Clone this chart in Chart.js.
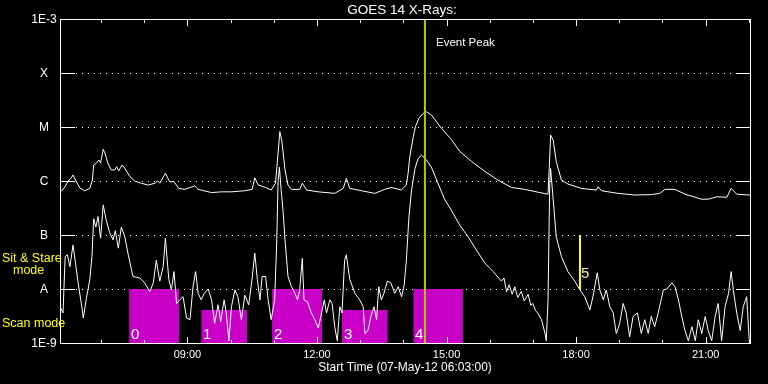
<!DOCTYPE html>
<html>
<head>
<meta charset="utf-8">
<title>GOES 14 X-Rays</title>
<script src="https://cdn.jsdelivr.net/npm/chart.js@4.4.1/dist/chart.umd.min.js"></script>
<style>
  html, body { margin: 0; padding: 0; background: #000; }
  canvas { display: block; }
</style>
</head>
<body>
<canvas id="goesChart" width="768" height="384"></canvas>
<script>
// GOES 14 X-ray flux, 07-May-12, hours UT

// long channel (1-8 A)
const longTimes = [
  6.07, 6.16, 6.24, 6.31, 6.35, 6.43, 6.51, 6.62, 6.74, 6.80,
  6.83, 6.89, 6.95, 6.99, 7.05, 7.09, 7.16, 7.24, 7.32, 7.36,
  7.41, 7.49, 7.55, 7.67, 7.78, 7.93, 8.09, 8.25, 8.31, 8.36,
  8.49, 8.59, 8.69, 8.80,
  8.94, 9.17, 9.25, 9.56, 9.79, 10.02, 10.33, 10.50, 10.56, 10.64,
  10.81, 10.94, 11.04, 11.10, 11.14, 11.19, 11.26, 11.33, 11.41, 11.60,
  11.66, 11.76, 12.03, 12.41, 12.61, 12.68, 12.76, 13.03, 13.34, 13.57,
  13.72, 13.95, 14.07, 14.11, 14.15, 14.23, 14.28, 14.36,
  14.46, 14.53, 14.65, 14.88, 15.11, 15.31, 15.58, 15.89, 16.19, 16.50,
  16.81, 17.16,
  17.35, 17.38, 17.41, 17.47, 17.54, 17.66, 17.81, 18.12, 18.47, 18.51,
  18.59, 18.97, 19.36, 19.74, 19.94,
  20.06, 20.29, 20.52, 20.91, 21.06, 21.26, 21.49, 21.59, 21.72, 21.99,
  22.05
];
const longFlux = [
  6.3e-7, 7.7e-7, 1.0e-6, 1.14e-6, 1.29e-6, 9.7e-7, 7.4e-7, 6.6e-7, 7.3e-7, 1.04e-6,
  1.98e-6, 2.13e-6, 2.45e-6, 2.15e-6, 3.86e-6, 3.3e-6, 2.13e-6, 1.6e-6, 1.6e-6, 1.84e-6,
  1.55e-6, 1.98e-6, 1.72e-6, 1.2e-6, 1.0e-6, 9.1e-7, 8.4e-7, 9.1e-7, 1.01e-6, 9.1e-7,
  1.39e-6, 9.7e-7, 9.7e-7, 7.3e-7,
  7.0e-7, 8.1e-7, 7.0e-7, 6.1e-7, 6.3e-7, 6.3e-7, 6.6e-7, 7.0e-7, 1.15e-6, 8.4e-7,
  7.6e-7, 6.8e-7, 9.1e-7, 3.3e-6, 8.2e-6, 5.3e-6, 1.6e-6, 8.4e-7, 7.0e-7, 7.0e-7,
  9.1e-7, 6.8e-7, 6.3e-7, 5.9e-7, 7.3e-7, 1.12e-6, 7.3e-7, 6.6e-7, 5.9e-7, 7.0e-7,
  7.6e-7, 6.8e-7, 8.4e-7, 1.39e-6, 2.82e-6, 6.6e-6, 1.01e-5, 1.45e-5,
  1.79e-5, 1.92e-5, 1.67e-5, 9.5e-6, 5.9e-6, 3.5e-6, 2.3e-6, 1.5e-6, 1.04e-6, 7.6e-7,
  7.0e-7, 6.1e-7,
  5.7e-7, 1.84e-6, 7.1e-6, 5.7e-6, 2.3e-6, 1.04e-6, 8.8e-7, 7.3e-7, 6.8e-7, 7.8e-7,
  6.6e-7, 5.9e-7, 5.5e-7, 5.6e-7, 5.9e-7,
  7.0e-7, 7.0e-7, 5.7e-7, 4.6e-7, 4.6e-7, 5.1e-7, 5.0e-7, 7.3e-7, 5.7e-7, 5.5e-7,
  5.6e-7
];

// short channel (0.5-4 A)
const shortTimes = [
  6.07, 6.12, 6.17, 6.22, 6.28, 6.35, 6.41, 6.47, 6.56, 6.59,
  6.66, 6.74, 6.79, 6.83, 6.88, 6.93, 6.99, 7.05, 7.12, 7.20,
  7.28, 7.33, 7.40, 7.47, 7.55, 7.63, 7.74, 7.90, 8.01, 8.13,
  8.21, 8.28, 8.36, 8.44, 8.49, 8.57, 8.63, 8.69, 8.75, 8.82,
  8.90, 8.98, 9.06, 9.13, 9.19, 9.25, 9.32, 9.39, 9.48, 9.56,
  9.63, 9.71, 9.77, 9.85, 9.90, 9.96, 10.02, 10.10, 10.17, 10.25,
  10.33, 10.42, 10.50, 10.56, 10.62, 10.68, 10.73, 10.81, 10.87, 10.94,
  11.02, 11.07, 11.10, 11.13, 11.17, 11.22, 11.26, 11.33, 11.41, 11.49,
  11.55, 11.60, 11.66, 11.70, 11.78, 11.87, 11.95, 12.03, 12.09, 12.17,
  12.22, 12.30, 12.35, 12.41, 12.47, 12.53, 12.58, 12.64, 12.68, 12.76,
  12.88, 12.99, 13.07, 13.11, 13.18, 13.25, 13.32, 13.38, 13.43, 13.49,
  13.55, 13.63, 13.71, 13.80, 13.88, 13.96, 14.02, 14.07, 14.13, 14.19,
  14.27, 14.34, 14.42, 14.51, 14.65, 14.80, 14.96, 15.11, 15.31, 15.50,
  15.69, 15.89, 16.08, 16.27, 16.33, 16.39, 16.45, 16.52, 16.58, 16.65,
  16.73, 16.80, 16.89, 16.95, 17.00, 17.06, 17.12, 17.20, 17.28, 17.31,
  17.35, 17.39, 17.41, 17.47, 17.54, 17.66, 17.81, 17.97, 18.09, 18.20,
  18.32, 18.39, 18.49, 18.55, 18.63, 18.70, 18.78, 18.86, 18.93, 19.01,
  19.09, 19.16, 19.24, 19.32, 19.42, 19.51, 19.59, 19.67, 19.74, 19.82,
  19.90, 19.97, 20.02, 20.10, 20.22, 20.29, 20.37, 20.43, 20.52, 20.60,
  20.68, 20.76, 20.83, 20.91, 20.99, 21.06, 21.14, 21.22, 21.29, 21.37,
  21.45, 21.53, 21.59, 21.64, 21.72, 21.80, 21.87, 21.95, 22.01
];
const shortFlux = [
  4.4e-9, 3.6e-9, 4.0e-8, 4.3e-8, 2.6e-8, 6.5e-8, 3.0e-8, 1.3e-8, 4.4e-9, 2.9e-9,
  6.7e-9, 1.5e-8, 4.0e-8, 2.0e-7, 1.4e-7, 2.2e-7, 8.7e-8, 3.6e-7, 1.9e-7, 1.1e-7,
  8.1e-8, 1.2e-7, 5.7e-8, 1.4e-7, 9.3e-8, 4.3e-8, 1.7e-8, 1.6e-8, 1.3e-8, 8.9e-9,
  1.3e-8, 3.4e-8, 1.4e-8, 2.6e-8, 8.7e-8, 1.5e-8, 9.6e-9, 2.1e-8, 5.4e-9, 6.3e-9,
  7.2e-9, 2.9e-9, 2.7e-9, 1.1e-8, 2.1e-8, 8.3e-9, 6.3e-9, 8.3e-9, 1.0e-8, 6.3e-9,
  2.3e-9, 5.1e-9, 2.5e-9, 6.3e-9, 3.6e-9, 1.1e-9, 4.7e-9, 9.6e-9, 7.2e-9, 2.7e-9,
  7.7e-9, 5.1e-9, 1.6e-8, 4.6e-8, 1.5e-8, 6.3e-9, 1.7e-8, 1.7e-8, 6.3e-9, 2.7e-9,
  6.3e-9, 8.1e-8, 1.0e-6, 1.8e-6, 7.0e-7, 2.5e-7, 8.1e-8, 1.7e-8, 1.1e-8, 8.3e-9,
  6.3e-9, 9.6e-9, 3.7e-8, 6.3e-9, 5.8e-9, 3.6e-9, 2.7e-9, 1.9e-9, 3.1e-9, 6.3e-9,
  3.6e-9, 6.3e-9, 5.4e-9, 2.0e-9, 1.1e-9, 4.7e-9, 3.6e-9, 3.4e-8, 4.3e-8, 1.5e-8,
  8.3e-9, 6.3e-9, 4.7e-9, 1.5e-9, 1.7e-9, 3.1e-9, 4.7e-9, 2.7e-9, 1.1e-8, 6.3e-9,
  8.3e-9, 1.4e-8, 1.3e-8, 8.3e-9, 1.1e-8, 7.2e-9, 1.2e-8, 3.4e-8, 2.2e-7, 6.8e-7,
  1.7e-6, 2.6e-6, 3.0e-6, 2.6e-6, 1.8e-6, 9.1e-7, 4.5e-7, 2.9e-7, 1.5e-7, 9.3e-8,
  5.3e-8, 3.0e-8, 2.1e-8, 1.4e-8, 1.6e-8, 8.9e-9, 1.2e-8, 8.0e-9, 1.1e-8, 7.0e-9,
  9.0e-9, 6.0e-9, 8.0e-9, 5.0e-9, 5.4e-9, 4.0e-9, 3.5e-9, 2.7e-9, 1.5e-9, 1.1e-9,
  6.3e-9, 9.1e-7, 1.7e-6, 4.5e-7, 9.3e-8, 4.0e-8, 2.1e-8, 1.4e-8, 9.6e-9, 7.2e-9,
  4.1e-9, 7.2e-9, 2.0e-8, 9.6e-9, 6.3e-9, 9.6e-9, 4.7e-9, 3.6e-9, 1.5e-9, 2.3e-9,
  5.4e-9, 3.6e-9, 1.3e-9, 3.1e-9, 3.6e-9, 1.5e-9, 2.7e-9, 1.5e-9, 3.1e-9, 2.0e-9,
  3.6e-9, 6.3e-9, 9.6e-9, 1.0e-8, 1.3e-8, 1.1e-8, 6.3e-9, 3.6e-9, 1.7e-9, 1.1e-9,
  2.0e-9, 1.1e-9, 2.7e-9, 1.5e-9, 3.1e-9, 1.7e-9, 1.1e-9, 3.1e-9, 5.4e-9, 1.1e-9,
  4.7e-9, 8.3e-9, 2.1e-8, 9.6e-9, 3.6e-9, 1.7e-9, 4.7e-9, 7.2e-9, 1.1e-9
];

// scan mode intervals (hours) and their top level
const scanStart = [7.65, 9.32, 10.96, 12.58, 14.23];
const scanEnd = [8.81, 10.38, 12.12, 13.64, 15.38];
const scanTop = [1e-8, 4.1e-9, 1e-8, 4.1e-9, 1e-8];
const scanLabels = ['0', '1', '2', '3', '4'];

// markers
const eventPeakTime = 14.50;
const sitStareTime = 18.09;
const sitStareRange = [1e-8, 1e-7];
const sitStareLabel = '5';

// axes
const timeMin = 6.05;
const timeMax = 22.05;
const hourTicks = [7, 8, 9, 10, 11, 12, 13, 14, 15, 16, 17, 18, 19, 20, 21, 22];
const labelHours = [9, 12, 15, 18, 21];
const labelHourText = ['09:00', '12:00', '15:00', '18:00', '21:00'];
const fluxTicks = [1e-9, 1e-8, 1e-7, 1e-6, 1e-5, 1e-4, 1e-3];
const fluxTickText = ['1E-9', 'A', 'B', 'C', 'M', 'X', '1E-3'];

const FONT = '"Liberation Sans", Arial, sans-serif';
const MAGENTA = '#c800c8';

function toPoints(times, values) {
    return times.map((t, i) => ({ x: t, y: values[i] }));
}

const datasets = [];

scanStart.forEach((s, i) => {
    datasets.push({
        label: 'scan ' + scanLabels[i],
        data: [
            { x: s, y: fluxTicks[0] }, { x: s, y: scanTop[i] },
            { x: scanEnd[i], y: scanTop[i] }, { x: scanEnd[i], y: fluxTicks[0] }
        ],
        borderWidth: 0,
        backgroundColor: MAGENTA,
        fill: 'start',
        pointRadius: 0,
        order: 4
    });
});

datasets.push({
    label: 'long',
    data: toPoints(longTimes, longFlux),
    borderColor: '#ffffff',
    borderWidth: 1,
    pointRadius: 0,
    fill: false,
    order: 2
});
datasets.push({
    label: 'short',
    data: toPoints(shortTimes, shortFlux),
    borderColor: '#ffffff',
    borderWidth: 1,
    pointRadius: 0,
    fill: false,
    order: 2
});
datasets.push({
    label: 'event peak',
    data: [{ x: eventPeakTime, y: fluxTicks[0] }, { x: eventPeakTime, y: fluxTicks[6] }],
    borderColor: '#aacc00',
    borderWidth: 2,
    pointRadius: 0,
    fill: false,
    order: 1
});
datasets.push({
    label: 'sit and stare',
    data: [{ x: sitStareTime, y: sitStareRange[0] }, { x: sitStareTime, y: sitStareRange[1] }],
    borderColor: '#ffff00',
    borderWidth: 2,
    pointRadius: 0,
    fill: false,
    order: 1
});

// IDL-style frame, ticks, dotted levels and labels
const idlFrame = {
    id: 'idlFrame',
    beforeDraw(chart) {
        const ctx = chart.ctx;
        ctx.save();
        ctx.fillStyle = '#000';
        ctx.fillRect(0, 0, chart.width, chart.height);
        ctx.restore();
    },
    beforeDatasetsDraw(chart) {
        const { ctx, chartArea: a, scales } = chart;
        ctx.save();
        ctx.fillStyle = '#ffffff';
        for (let i = 1; i < fluxTicks.length - 1; i++) {
            const y = Math.round(scales.y.getPixelForValue(fluxTicks[i]));
            for (let x = a.left + 16; x < a.right - 16; x += 6) ctx.fillRect(x, y, 1, 1);
        }
        ctx.restore();
    },
    afterDatasetsDraw(chart) {
        const { ctx, chartArea: a, scales } = chart;
        const L = a.left, R = a.right - 1, T = a.top, B = a.bottom;
        ctx.save();
        ctx.fillStyle = '#ffffff';
        // frame
        ctx.fillRect(L, T, R - L + 1, 1);
        ctx.fillRect(L, B, R - L + 1, 1);
        ctx.fillRect(L, T, 1, B - T + 1);
        ctx.fillRect(R, T, 1, B - T + 1);
        // level ticks
        for (let i = 1; i < fluxTicks.length - 1; i++) {
            const y = Math.round(scales.y.getPixelForValue(fluxTicks[i]));
            ctx.fillRect(L, y, 15, 1);
            ctx.fillRect(R - 14, y, 15, 1);
        }
        // hour ticks
        hourTicks.forEach(h => {
            const x = Math.round(scales.x.getPixelForValue(h));
            const len = labelHours.includes(h) ? 7 : 4;
            ctx.fillRect(x, T, 1, len);
            ctx.fillRect(x, B - len + 1, 1, len);
        });

        // y labels
        ctx.font = '12px ' + FONT;
        ctx.textAlign = 'center';
        ctx.textBaseline = 'middle';
        fluxTicks.forEach((v, i) => {
            ctx.fillText(fluxTickText[i], 44, scales.y.getPixelForValue(v) + 1);
        });

        // x labels
        ctx.font = '11px ' + FONT;
        labelHours.forEach((h, i) => {
            ctx.fillText(labelHourText[i], scales.x.getPixelForValue(h), 355);
        });
        ctx.font = '12px ' + FONT;
        ctx.fillText('Start Time (07-May-12 06:03:00)', 405, 368);

        // title
        ctx.font = '13.5px ' + FONT;
        ctx.fillText('GOES 14 X-Rays:', 402, 10);

        // event peak text
        ctx.textAlign = 'left';
        ctx.font = '11.5px ' + FONT;
        ctx.fillText('Event Peak', 436, 43);

        // scan box numbers
        ctx.textBaseline = 'alphabetic';
        ctx.font = '15px ' + FONT;
        scanStart.forEach((s, i) => {
            ctx.fillText(scanLabels[i], Math.round(scales.x.getPixelForValue(s)) + 2, 339);
        });
        ctx.fillStyle = '#eeeeaa';
        ctx.fillText(sitStareLabel, Math.round(scales.x.getPixelForValue(sitStareTime)) + 1, 278);

        // mode captions
        ctx.fillStyle = '#ffff00';
        ctx.textBaseline = 'middle';
        ctx.font = '12.5px ' + FONT;
        ctx.fillText('Sit & Stare', 2, 259);
        ctx.fillText('mode', 13, 271);
        ctx.fillText('Scan mode', 2, 324);
        ctx.restore();
    }
};

new Chart(document.getElementById('goesChart'), {
    type: 'line',
    data: { datasets: datasets },
    options: {
        responsive: false,
        animation: false,
        devicePixelRatio: 1,
        layout: { padding: { left: 60, right: 17, top: 19, bottom: 41 } },
        plugins: {
            legend: { display: false },
            tooltip: { enabled: false },
            title: { display: false }
        },
        elements: { line: { tension: 0 } },
        scales: {
            x: { type: 'linear', min: timeMin, max: timeMax, display: false },
            y: { type: 'logarithmic', min: fluxTicks[0], max: fluxTicks[6], display: false }
        }
    },
    plugins: [idlFrame]
});
</script>
</body>
</html>
